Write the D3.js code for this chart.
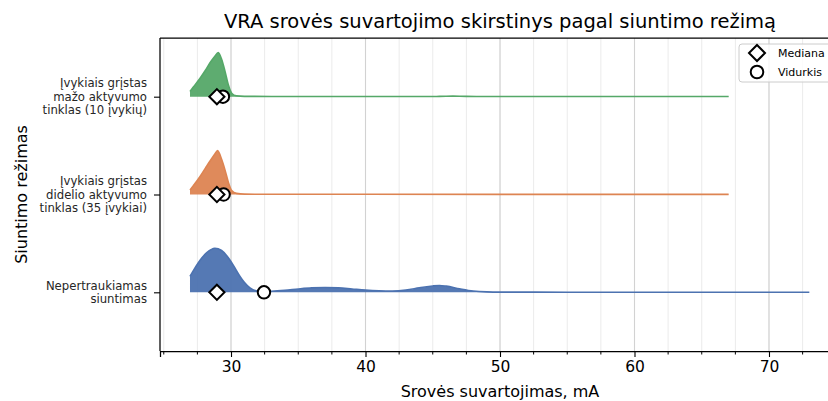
<!DOCTYPE html>
<html><head><meta charset="utf-8">
<script src="https://cdn.jsdelivr.net/npm/d3@7"></script>
<style>
html,body{margin:0;padding:0;background:#fff;}
svg{display:block;font-family:"DejaVu Sans",sans-serif;}
</style></head>
<body>
<svg id="chart" width="828" height="401"></svg>
<script>
// ---- data ----
const title = "VRA srovės suvartojimo skirstinys pagal siuntimo režimą";
const xLabel = "Srovės suvartojimas, mA";
const yLabel = "Siuntimo režimas";
const categories = ["Nepertraukiamas siuntimas",
  "Įvykiais grįstas didelio aktyvumo tinklas (35 įvykiai)",
  "Įvykiais grįstas mažo aktyvumo tinklas (10 įvykių)"];
const categoryLines = [["Nepertraukiamas","siuntimas"],
  ["Įvykiais grįstas","didelio aktyvumo","tinklas (35 įvykiai)"],
  ["Įvykiais grįstas","mažo aktyvumo","tinklas (10 įvykių)"]];
const colors = ["#4c72b0", "#dd8452", "#55a868"];

const blueX = [26.95,27.7,28.2,28.8,29.3,29.93,30.3,30.67,31.0,31.41,32.16,33,34,35,36,37,38,39,40,41,42,43,44,45,45.5,46,47,48,49,50,55,73];
const blueD = [0.36,0.73,0.9,1.0,0.95,0.73,0.55,0.36,0.22,0.1,0.02,0.025,0.045,0.075,0.1,0.11,0.1,0.075,0.05,0.035,0.03,0.05,0.1,0.145,0.155,0.14,0.08,0.03,0.01,0.005,0.003,0.003];
const orangeX = [26.95,27.2,27.7,28.1,28.44,28.8,29.0,29.3,29.55,29.8,30.05,30.4,31,33,40,50,67];
const orangeD = [0.1,0.2,0.41,0.6,0.76,0.92,1.0,0.8,0.56,0.28,0.09,0.025,0.008,0.005,0.004,0.003,0.003];
const greenX = [26.95,27.2,27.7,28.1,28.44,28.8,29.05,29.3,29.55,29.8,30.05,30.4,31,33,40,45.5,46.5,47.5,55,67];
const greenD = [0.12,0.22,0.42,0.6,0.77,0.92,1.0,0.85,0.58,0.27,0.08,0.02,0.008,0.005,0.004,0.006,0.012,0.006,0.003,0.003];

const medians = [28.95, 28.95, 28.95];
const means = [32.45, 29.45, 29.4];

const xMajorTicks = [30, 40, 50, 60, 70];
const xMinorTicks = [25,27.5,30,32.5,35,37.5,40,42.5,45,47.5,50,52.5,55,57.5,60,62.5,65,67.5,70,72.5,75];
const legendLabels = ["Mediana", "Vidurkis"];

// ---- layout ----
const L = 160, R = 840, T = 38, B = 351;
const ridgeScale = 0.45;
const svg = d3.select("#chart");
const x = d3.scaleLinear().domain([24.72, 75.28]).range([L, R]);
const y = d3.scaleLinear().domain([-0.6, 2.6]).range([B, T]);

// grid
svg.append("g").selectAll("line.minor").data(xMinorTicks).join("line")
  .attr("x1", d => x(d)).attr("x2", d => x(d)).attr("y1", T).attr("y2", B)
  .attr("stroke", "#ebebeb").attr("stroke-width", 1);
svg.append("g").selectAll("line.major").data(xMajorTicks).join("line")
  .attr("x1", d => x(d)).attr("x2", d => x(d)).attr("y1", T).attr("y2", B)
  .attr("stroke", "#d2d2d2").attr("stroke-width", 1.1);

// ridges
const series = [
  {xs: blueX, ds: blueD},
  {xs: orangeX, ds: orangeD},
  {xs: greenX, ds: greenD}
];
series.forEach((s, i) => {
  const pts = s.xs.map((v, k) => [v, s.ds[k]]);
  const area = d3.area().curve(d3.curveMonotoneX)
    .x(p => x(p[0])).y0(y(i)).y1(p => y(i + p[1] * ridgeScale));
  const line = d3.line().curve(d3.curveMonotoneX)
    .x(p => x(p[0])).y(p => y(i + p[1] * ridgeScale));
  svg.append("path").attr("d", area(pts)).attr("fill", colors[i]).attr("fill-opacity", 0.95);
  svg.append("path").attr("d", line(pts)).attr("fill", "none").attr("stroke", colors[i]).attr("stroke-width", 1.6);
});

// markers
const diamond = (cx, cy, r) => `M${cx},${cy - r}L${cx + r},${cy}L${cx},${cy + r}L${cx - r},${cy}Z`;
categories.forEach((c, i) => {
  svg.append("circle").attr("cx", x(means[i])).attr("cy", y(i)).attr("r", 6.2)
    .attr("fill", "#fff").attr("stroke", "#000").attr("stroke-width", 2);
  svg.append("path").attr("d", diamond(x(medians[i]), y(i), 7.6))
    .attr("fill", "#fff").attr("stroke", "#000").attr("stroke-width", 2).attr("stroke-linejoin", "miter");
});

// spines
svg.append("line").attr("x1", L).attr("x2", R).attr("y1", T).attr("y2", T).attr("stroke", "#000").attr("stroke-width", 1.25);
svg.append("line").attr("x1", L).attr("x2", L).attr("y1", T).attr("y2", B).attr("stroke", "#000").attr("stroke-width", 1.25);

// x axis
const xAxis = d3.axisBottom(x).tickValues(xMajorTicks).tickSize(6).tickPadding(4).tickFormat(d3.format("d"));
const gx = svg.append("g").attr("transform", `translate(0,${B})`).call(xAxis);
gx.select(".domain").attr("stroke", "#000").attr("stroke-width", 1.25);
gx.selectAll(".tick line").attr("stroke", "#000").attr("stroke-width", 1.1);
gx.selectAll(".tick text").attr("font-size", 15.5).attr("fill", "#000").attr("font-family", "DejaVu Sans");
svg.append("g").attr("transform", `translate(0,${B})`).selectAll("line").data(xMinorTicks.filter(v => !xMajorTicks.includes(v))).join("line")
  .attr("x1", d => x(d)).attr("x2", d => x(d)).attr("y1", 0).attr("y2", 3.5)
  .attr("stroke", "#000").attr("stroke-width", 1);

// y axis
const yAxis = d3.axisLeft(y).tickValues([0, 1, 2]).tickSize(6).tickFormat("");
const gy = svg.append("g").attr("transform", `translate(${L},0)`).call(yAxis);
gy.select(".domain").remove();
gy.selectAll(".tick line").attr("stroke", "#000").attr("stroke-width", 1.1);
const fs = 11.7, lh = 13.5;
categoryLines.forEach((lines, i) => {
  const t = svg.append("text").attr("text-anchor", "end").attr("font-size", fs).attr("fill", "#262626");
  const n = lines.length;
  lines.forEach((ln, k) => {
    t.append("tspan").attr("x", L - 13)
      .attr("y", y(i) + (k - (n - 1) / 2) * lh + fs * 0.36).text(ln);
  });
});

// labels
svg.append("text").attr("x", (L + R) / 2).attr("y", 28).attr("text-anchor", "middle")
  .attr("font-size", 19.5).attr("fill", "#000").text(title);
svg.append("text").attr("x", (L + R) / 2).attr("y", 397).attr("text-anchor", "middle")
  .attr("font-size", 16).attr("fill", "#000").text(xLabel);
svg.append("text").attr("transform", `translate(27,${(T + B) / 2}) rotate(-90)`).attr("text-anchor", "middle")
  .attr("font-size", 16).attr("fill", "#000").text(yLabel);

// legend
const lg = svg.append("g");
lg.append("rect").attr("x", 739).attr("y", 44).attr("width", 96).attr("height", 38).attr("rx", 3)
  .attr("fill", "#fff").attr("fill-opacity", 0.8).attr("stroke", "#cccccc").attr("stroke-width", 1);
lg.append("path").attr("d", diamond(757, 53, 8)).attr("fill", "#fff").attr("stroke", "#000").attr("stroke-width", 2);
lg.append("circle").attr("cx", 757).attr("cy", 72).attr("r", 6.3).attr("fill", "#fff").attr("stroke", "#000").attr("stroke-width", 2);
legendLabels.forEach((lab, k) => {
  lg.append("text").attr("x", 778).attr("y", 53 + k * 19 + 4).attr("font-size", 11).attr("fill", "#000").text(lab);
});
</script>
</body></html>
